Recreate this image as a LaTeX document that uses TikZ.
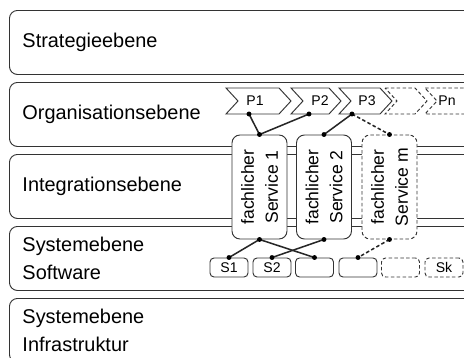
\documentclass[tikz,border=0pt]{standalone}
\usepackage{fontspec}
\setmainfont{Liberation Sans}
\usetikzlibrary{calc}

% chevron: [style] left x, top-right x
\newcommand{\chev}[3][]{\draw[chev,#1] (#2,88) -- (#3,88) -- ++(12,13) -- ++(-12,13) -- (#2,114) -- ++(12,-13) -- cycle;}

\begin{document}
\begin{tikzpicture}[x=0.03cm,y=-0.03cm,
  layer/.style={draw=black!80,line width=0.8pt,rounded corners=0.24cm,anchor=north west,
    minimum width=13.98cm,minimum height=1.92cm,text width=13.2cm,inner xsep=0.39cm,align=left,
    font=\fontsize{17}{24.5}\selectfont},
  chev/.style={draw=black!80,line width=0.8pt,fill=white},
  proc/.style={inner sep=1pt,font=\fontsize{12}{14}\selectfont},
  service/.style={draw=black!80,line width=0.8pt,fill=white,rounded corners=0.24cm,
    minimum width=1.65cm,minimum height=3.12cm},
  svctext/.style={rotate=90,align=center,inner sep=0pt,font=\fontsize{15}{20.5}\selectfont},
  sysbox/.style={draw=black!80,line width=0.8pt,fill=white,rounded corners=0.12cm,
    minimum width=1.14cm,minimum height=0.57cm,inner sep=0pt,font=\fontsize{12}{14}\selectfont},
  later/.style={dash pattern=on 3pt off 2pt},
  link/.style={line width=1.3pt,black!85}]
  \path[use as bounding box,clip] (0,0) rectangle (464,358);
  \fill[white] (0,0) rectangle (464,358);
  % Ebenen
  \node[layer] (strat) at (9,10) {Strategieebene};
  \node[layer] (org) at (9,82) {Organisationsebene};
  \node[layer] (integ) at (9,154) {Integrationsebene};
  \node[layer] (syssw) at (9,226) {Systemebene\\Software};
  \node[layer] (sysinf) at (9,298) {Systemebene\\Infrastruktur};
  % fachliche Services
  \node[service] (svc1) at (259.5,187) {};
  \node[svctext] (svc1txt) at (svc1) {fachlicher\\Service 1};
  \node[service] (svc2) at (324,187) {};
  \node[svctext] (svc2txt) at (svc2) {fachlicher\\Service 2};
  \node[service,later] (svcm) at (389.5,187) {};
  \node[svctext] (svcmtxt) at (svcm) {fachlicher\\Service m};
  % Prozesse
  \chev{226}{279}
  \chev{291}{329}
  \chev{339}{380}
  \chev[later]{385}{415}
  \chev[later]{425}{480}
  \node[proc] (p1) at (255,101) {P1};
  \node[proc] (p2) at (320,101) {P2};
  \node[proc] (p3) at (367,101) {P3};
  \node[proc] (pn) at (447,101) {Pn};
  \coordinate (p1d) at (249,114);
  \coordinate (p2d) at (309,114);
  \coordinate (p3d) at (352,114);
  % Systeme
  \node[sysbox] (sw1) at (229,267.5) {S1};
  \node[sysbox] (sw2) at (272,267.5) {S2};
  \node[sysbox] (sw3) at (314.5,267.5) {};
  \node[sysbox] (sw4) at (358,267.5) {};
  \node[sysbox,later] (sw5) at (400.5,267.5) {};
  \node[sysbox,later] (sw6) at (444,267.5) {Sk};
  % Verbindungen
  \draw[link] (p1d) -- (svc1.north);
  \draw[link] (p2d) -- (svc1.north);
  \draw[link] (p3d) -- (svc2.north);
  \draw[link,later] (p3d) -- (svcm.north);
  \draw[link] (svc1.south) -- (sw1.north);
  \draw[link] (svc1.south) -- (sw3.north);
  \draw[link] (svc2.south) -- (sw2.north);
  \draw[link,later] (svcm.south) -- (sw4.north);
  \foreach \c in {p1d,p2d,p3d,svc1.north,svc2.north,svcm.north,svc1.south,svc2.south,svcm.south,
    sw1.north,sw2.north,sw3.north,sw4.north}
    \fill[black] (\c) circle (2.1pt);
\end{tikzpicture}
\end{document}
